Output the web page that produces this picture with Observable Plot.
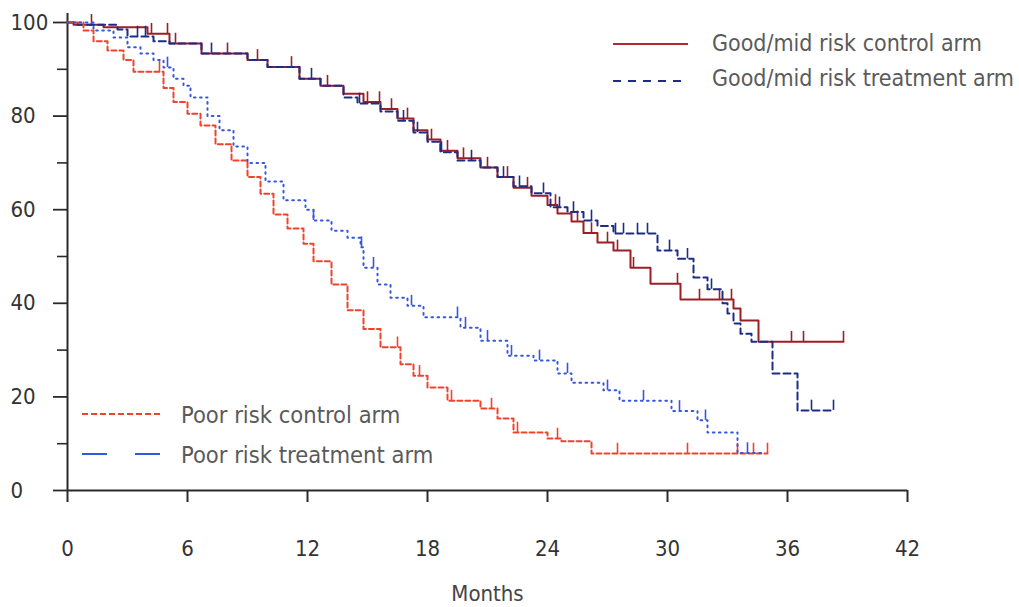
<!DOCTYPE html>
<html>
<head>
<meta charset="utf-8">
<script src="https://cdn.jsdelivr.net/npm/d3@7"></script>
<script src="https://cdn.jsdelivr.net/npm/@observablehq/plot@0.6"></script>
<style>
  html, body { margin: 0; padding: 0; background: #fff; }
  #wrap { position: relative; width: 1019px; height: 607px; }
  #legend { position: absolute; left: 0; top: 0; pointer-events: none; }
  .lg { font-family: "DejaVu Sans Condensed", "DejaVu Sans", sans-serif; font-stretch: condensed; font-size: 23px; fill: #5a5a5a; }
  .lg2 { font-size: 23.5px; }
</style>
</head>
<body>
<div id="wrap"></div>
<script>
// ---- Data (months, survival %) ----
const xTicks = [0, 6, 12, 18, 24, 30, 36, 42];
const yMajorTicks = [0, 20, 40, 60, 80, 100];
const yMinorTicks = [10, 30, 50, 70, 90];

const seriesNames = [
  "Good/mid risk control arm",
  "Good/mid risk treatment arm",
  "Poor risk control arm",
  "Poor risk treatment arm"
];

const gmControlMonths = [0, 0.3, 1.8, 4.0, 5.1, 6.7, 9.0, 10.0, 11.6, 12.65, 13.8, 14.8, 15.65, 16.5, 17.3, 18.0, 18.65, 19.5, 20.65, 21.5, 22.3, 23.2, 24.0, 24.5, 25.2, 25.8, 26.5, 27.3, 28.15, 29.15, 30.65, 33.3, 33.65, 34.55, 38.8];
const gmControlSurv   = [100, 99.5, 99, 97.6, 95.5, 93.4, 92, 90.5, 88, 86.5, 84.8, 83, 81.5, 79.5, 77, 75, 72.6, 71, 69, 67, 64.7, 63, 61, 59.2, 57.5, 55, 53, 51.3, 47.6, 44.2, 40.8, 38.9, 36.3, 31.8, 31.8];

const gmTreatMonths = [0, 0.5, 2.5, 3.0, 4.3, 5.1, 6.7, 9.0, 10.0, 11.6, 12.65, 13.8, 14.5, 15.65, 16.5, 17.3, 18.0, 18.65, 19.5, 20.65, 21.5, 22.3, 23.2, 24.15, 25.0, 25.8, 26.5, 27.3, 29.5, 30.5, 31.3, 32.0, 32.75, 33.0, 33.3, 33.65, 34.2, 35.25, 36.5, 38.3];
const gmTreatSurv   = [100, 99.5, 98.5, 97, 96, 95.5, 93.4, 92, 90.5, 88, 86.5, 84, 82.7, 81, 79, 76.5, 74.5, 72.3, 70.5, 69, 67, 65, 63.5, 60.5, 59.5, 57.7, 56.5, 54.9, 51.3, 49.5, 45.5, 43, 40, 37.8, 35.7, 33.5, 31.8, 25, 17.1, 17.1];

const poorControlMonths = [0, 0.8, 1.3, 2.0, 2.8, 3.3, 4.8, 5.3, 6.0, 6.65, 7.4, 8.2, 9.0, 9.65, 10.3, 11.0, 11.8, 12.3, 13.2, 14.0, 14.8, 15.65, 16.65, 17.3, 18.0, 19.0, 20.65, 21.5, 22.3, 24.0, 24.7, 26.2, 35.0];
const poorControlSurv   = [100, 98.3, 96, 94, 92, 89.5, 86, 83, 80.5, 78, 74, 70.5, 67, 63.4, 59, 56, 52.7, 49, 44, 38.5, 34.5, 30.6, 27, 24.5, 22, 19.2, 17.5, 15.4, 12.4, 11.1, 10.5, 7.9, 7.9];

const poorTreatMonths = [0, 1.3, 2.3, 3.0, 3.65, 4.3, 4.8, 5.3, 5.8, 6.15, 7.0, 7.6, 8.3, 9.0, 9.9, 10.8, 11.9, 12.3, 13.2, 14.0, 14.65, 14.8, 15.5, 16.15, 17.0, 17.8, 19.65, 20.65, 22.0, 23.3, 24.5, 25.2, 26.8, 27.6, 30.2, 31.5, 32.0, 33.5, 34.8];
const poorTreatSurv   = [100, 98.3, 96.8, 94.7, 93.4, 92, 90.4, 88, 86.5, 84, 80, 77, 73.5, 70, 66, 62, 60, 57.7, 55.5, 54, 52, 47.6, 44, 41.2, 39.5, 37, 34.8, 32, 28.8, 27.8, 25, 23, 21.4, 19.2, 17, 15, 12.4, 8, 8];

// censoring marks (months)
const gmControlCensor = [1.2, 4.2, 5.0, 5.4, 8.0, 9.5, 11.2, 13.0, 15.0, 15.6, 16.2, 17.0, 18.2, 19.0, 19.8, 21.0, 22.0, 23.0, 24.4, 25.5, 26.2, 27.0, 27.5, 28.3, 30.5, 31.6, 32.6, 33.2, 36.2, 36.8, 38.8];
const gmTreatCensor = [3.5, 3.9, 7.2, 12.2, 14.6, 16.8, 17.5, 18.7, 20.2, 21.8, 22.6, 23.8, 24.6, 25.3, 26.2, 27.4, 27.8, 28.5, 29.0, 30.1, 31.0, 32.2, 37.2, 38.3];
const poorControlCensor = [4.6, 16.5, 17.6, 19.2, 21.2, 22.5, 24.5, 27.5, 31.0, 33.5, 34.3, 35.0];
const poorTreatCensor = [5.0, 12.3, 14.7, 15.3, 17.2, 19.5, 19.9, 21.0, 22.2, 23.6, 25.0, 27.0, 28.8, 30.6, 31.9, 34.0];

// ---- Styles ----
const styles = [
  {stroke: "#9c1f26", dash: null},
  {stroke: "#1c2c88", dash: "7,4"},
  {stroke: "#f0432f", dash: "5,3"},
  {stroke: "#3556e0", dash: "1.6,4.5"}
];

const allMonths = [gmControlMonths, gmTreatMonths, poorControlMonths, poorTreatMonths];
const allSurv = [gmControlSurv, gmTreatSurv, poorControlSurv, poorTreatSurv];
const allCensor = [gmControlCensor, gmTreatCensor, poorControlCensor, poorTreatCensor];

const curves = allMonths.map((ms, i) => ms.map((t, j) => ({series: seriesNames[i], t, s: allSurv[i][j]})));
function survAt(i, t) {
  const ms = allMonths[i];
  let k = 0;
  for (let j = 0; j < ms.length; j++) if (ms[j] <= t) k = j;
  return allSurv[i][k];
}
const censors = allCensor.map((cs, i) => cs.map(t => ({series: seriesNames[i], t, s: survAt(i, t)})));

const marks = [];
curves.forEach((c, i) => {
  marks.push(Plot.line(c, {x: "t", y: "s", curve: "step-after", stroke: styles[i].stroke,
    strokeWidth: 2, strokeDasharray: styles[i].dash}));
  marks.push(Plot.ruleX(censors[i], {x: "t", y1: "s", y2: d => d.s + 2.2, stroke: styles[i].stroke, strokeWidth: 1.6}));
});

const tickFont = "'DejaVu Sans Condensed', 'DejaVu Sans', sans-serif";

const plot = Plot.plot({
  width: 1019,
  height: 607,
  marginLeft: 67,
  marginRight: 112,
  marginTop: 22,
  marginBottom: 117,
  x: {domain: [0, 42]},
  y: {domain: [0, 100]},
  style: {fontFamily: tickFont, fontSize: "22px", color: "#2a2a2a", background: "#fff", fontStretch: "condensed"},
  marks: [
    Plot.axisX({ticks: xTicks, tickSize: 12, tickPadding: 38, label: null, strokeWidth: 2, fontSize: 22, fill: "#333"}),
    Plot.axisY({ticks: yMajorTicks, tickSize: 0, tickPadding: 0, textAnchor: "start", dx: -57, label: null, fontSize: 22, fill: "#333"}),
    Plot.axisY({ticks: yMajorTicks, tickSize: 14, tickFormat: () => "", label: null, strokeWidth: 1.8}),
    Plot.axisY({ticks: yMinorTicks, tickSize: 10, tickFormat: () => "", label: null, strokeWidth: 1.6}),
    Plot.ruleX([0], {stroke: "#2a2a2a", strokeWidth: 2, insetTop: -9}),
    Plot.ruleY([0], {stroke: "#2a2a2a", strokeWidth: 2}),
    ...marks,
    Plot.text(["Months"], {text: d => d, frameAnchor: "bottom", dy: 110, fontSize: 22,
      fontFamily: tickFont, fill: "#444"})
  ]
});

const wrap = document.getElementById("wrap");
wrap.appendChild(plot);

// ---- Legend overlay ----
const ns = "http://www.w3.org/2000/svg";
const lg = document.createElementNS(ns, "svg");
lg.setAttribute("id", "legend");
lg.setAttribute("width", 1019);
lg.setAttribute("height", 607);
const legendItems = [
  {x1: 613, x2: 688, y: 44, tx: 712, ty: 51, stroke: "#b02a35", dash: null, i: 0, cls: "lg"},
  {x1: 613, x2: 688, y: 81, tx: 712, ty: 86, stroke: "#1c2c88", dash: "8,7", i: 1, cls: "lg"},
  {x1: 82, x2: 160, y: 414, tx: 181, ty: 423, stroke: "#f0432f", dash: "6,3", i: 2, cls: "lg lg2"},
  {x1: 82, x2: 160, y: 454, tx: 181, ty: 463, stroke: "#3556e0", dash: "25,28", i: 3, cls: "lg lg2"}
];
legendItems.forEach(it => {
  const l = document.createElementNS(ns, "line");
  l.setAttribute("x1", it.x1); l.setAttribute("x2", it.x2);
  l.setAttribute("y1", it.y); l.setAttribute("y2", it.y);
  l.setAttribute("stroke", it.stroke); l.setAttribute("stroke-width", 2);
  if (it.dash) l.setAttribute("stroke-dasharray", it.dash);
  lg.appendChild(l);
  const t = document.createElementNS(ns, "text");
  t.setAttribute("x", it.tx); t.setAttribute("y", it.ty);
  t.setAttribute("class", it.cls);
  t.textContent = seriesNames[it.i];
  lg.appendChild(t);
});
wrap.appendChild(lg);
</script>
</body>
</html>
